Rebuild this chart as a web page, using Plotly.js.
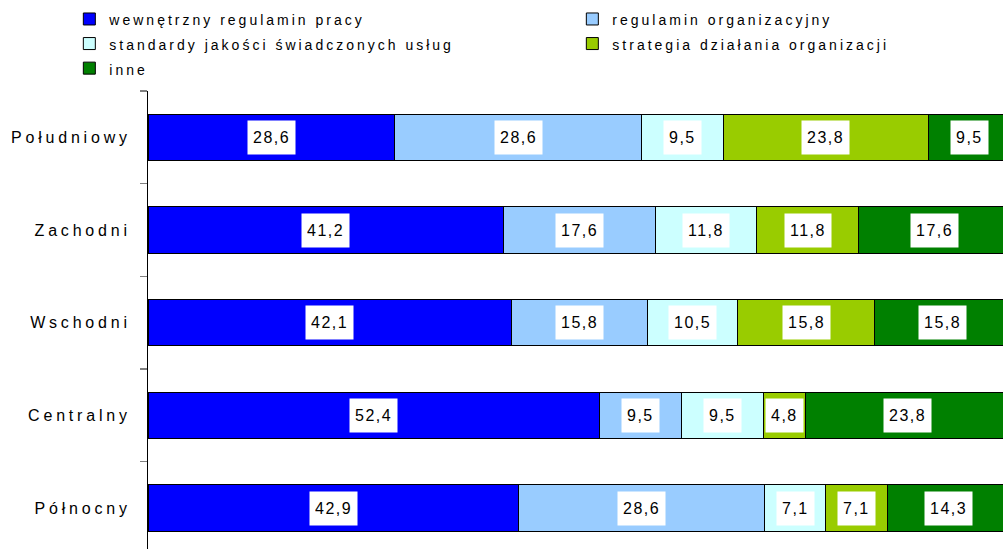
<!DOCTYPE html>
<html>
<head>
<meta charset="utf-8">
<script src="https://cdn.plot.ly/plotly-3.0.1.min.js"></script>
<style>
body{margin:0;padding:0;background:#fff;}
#chart{width:1003px;height:549px;}
.yaxislayer-above .ytick text{letter-spacing:3.8px;}
.legendtext{letter-spacing:3px;font-size:14px !important;}
.annotation-text{letter-spacing:1.5px;}
</style>
</head>
<body>
<div id="chart"></div>
<script>
// categories, bottom to top
var regions = ['Północny', 'Centralny', 'Wschodni', 'Zachodni', 'Południowy'];
var seriesNames = ['wewnętrzny regulamin pracy', 'regulamin organizacyjny', 'standardy jakości świadczonych usług', 'strategia działania organizacji', 'inne'];
var wewnetrzny = [42.9, 52.4, 42.1, 41.2, 28.6];
var organizacyjny = [28.6, 9.5, 15.8, 17.6, 28.6];
var standardy = [7.1, 9.5, 10.5, 11.8, 9.5];
var strategia = [7.1, 4.8, 15.8, 11.8, 23.8];
var inne = [14.3, 23.8, 15.8, 17.6, 9.5];
var colors = ['#0000FF', '#99CCFF', '#CCFFFF', '#99CC00', '#008000'];

var series = [wewnetrzny, organizacyjny, standardy, strategia, inne];
var traces = [];
var annotations = [];
var cum = regions.map(function(){return 0;});
series.forEach(function(vals, si){
  traces.push({
    type: 'bar', orientation: 'h',
    name: seriesNames[si], y: regions, x: vals,
    marker: {color: colors[si], line: {color: '#000', width: 1}},
    hoverinfo: 'skip'
  });
  vals.forEach(function(v, i){
    annotations.push({
      x: cum[i] + v/2, y: regions[i], xref: 'x', yref: 'y',
      text: v.toFixed(1).replace('.', ','), showarrow: false,
      bgcolor: '#fff', borderpad: 5, height: 23,
      font: {family: 'Liberation Sans, Arial, sans-serif', size: 16, color: '#000'}
    });
    cum[i] += v;
  });
});

var layout = {
  width: 1003, height: 549,
  margin: {l: 148, r: 0, t: 91, b: 0, pad: 0, autoexpand: false},
  paper_bgcolor: '#fff', plot_bgcolor: '#fff',
  barmode: 'stack', bargap: 0.5,
  showlegend: true,
  legend: {
    orientation: 'h', x: -0.092, xanchor: 'left', y: 1.195, yanchor: 'top',
    font: {family: 'Liberation Sans, Arial, sans-serif', size: 16.6, color: '#000'},
    bgcolor: 'rgba(0,0,0,0)', traceorder: 'normal',
    entrywidth: 458, entrywidthmode: 'pixels'
  },
  xaxis: {range: [0, 99.13], visible: false, fixedrange: true},
  yaxis: {
    type: 'category', range: [-0.442, 4.5], showline: true, linecolor: '#000', linewidth: 1,
    ticks: 'outside', tickson: 'boundaries', ticklen: 7, tickcolor: '#808080', tickwidth: 1.5,
    showgrid: false, zeroline: false, ticklabelstandoff: 13,
    tickfont: {family: 'Liberation Sans, Arial, sans-serif', size: 16, color: '#000'},
    fixedrange: true
  },
  annotations: annotations
};

Plotly.newPlot('chart', traces, layout, {displayModeBar: false, staticPlot: true});
</script>
</body>
</html>
